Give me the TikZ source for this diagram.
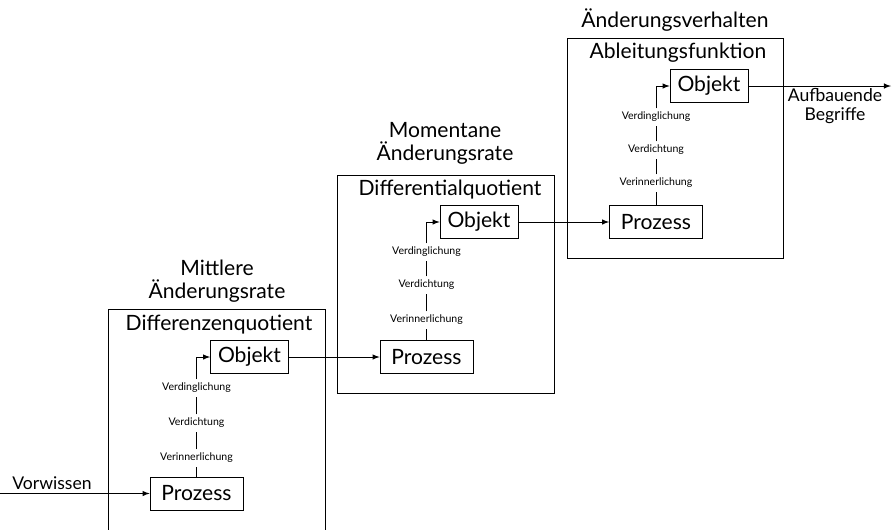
\documentclass[tikz,border=0pt]{standalone}
\usepackage{fontspec}
\setmainfont{Lato}
\usetikzlibrary{arrows}

\begin{document}
\begin{tikzpicture}[x=0.02cm,y=-0.02cm,>=latex,
    stufe/.style={draw,minimum height=0.66cm,inner sep=2pt,font=\fontsize{12}{14}\selectfont},
    schritt/.style={inner sep=2pt,font=\fontsize{6}{7}\selectfont},
    titel/.style={align=center,font=\fontsize{12}{13}\selectfont}]
      \useasboundingbox (0,0) rectangle (892,529);
      % Mittlere Aenderungsrate
      \draw (108,309) rectangle (325,540);
      \node[titel] (t1) at (217,281) {Mittlere\\Änderungsrate};
      \node[titel] (u1) at (219,325) {Differenzenquotient};
      \node[stufe,minimum width=1.56cm] (o1) at (249.5,357) {Objekt};
      \node[stufe,minimum width=1.86cm] (p1) at (196.5,493.5) {Prozess};
      \node[schritt] (vg1) at (196.5,388) {Verdinglichung};
      \node[schritt] (vd1) at (196.5,423) {Verdichtung};
      \node[schritt] (vi1) at (196.5,458) {Verinnerlichung};
      \draw (p1.north) -- (vi1.south);
      \draw (vi1.north) -- (vd1.south);
      \draw (vd1.north) -- (vg1.south);
      \draw[->] (vg1.north) |- (o1.west);
      \node[font=\fontsize{10}{12}\selectfont] (vw) at (52,483) {Vorwissen};
      \coordinate (start) at (0,493.5);
      \draw[->] (start) -- (p1.west);

      % Momentane Aenderungsrate
      \draw (337,175) rectangle (554,393);
      \node[titel] (t2) at (445,143.5) {Momentane\\Änderungsrate};
      \node[titel] (u2) at (450,190) {Differentialquotient};
      \node[stufe,minimum width=1.56cm] (o2) at (479,222) {Objekt};
      \node[stufe,minimum width=1.86cm] (p2) at (426.5,357) {Prozess};
      \node[schritt] (vg2) at (426.5,252) {Verdinglichung};
      \node[schritt] (vd2) at (426.5,285) {Verdichtung};
      \node[schritt] (vi2) at (426.5,320) {Verinnerlichung};
      \draw (p2.north) -- (vi2.south);
      \draw (vi2.north) -- (vd2.south);
      \draw (vd2.north) -- (vg2.south);
      \draw[->] (vg2.north) |- (o2.west);
      \draw[->] (o1.east) -- (p2.west);

      % Aenderungsverhalten
      \draw (567,38) rectangle (783,258);
      \node[titel] (t3) at (675,20) {Änderungsverhalten};
      \node[titel] (u3) at (678,53) {Ableitungsfunktion};
      \node[stufe,minimum width=1.56cm] (o3) at (709,86) {Objekt};
      \node[stufe,minimum width=1.86cm] (p3) at (656,222) {Prozess};
      \node[schritt] (vg3) at (656,117) {Verdinglichung};
      \node[schritt] (vd3) at (656,150) {Verdichtung};
      \node[schritt] (vi3) at (656,183) {Verinnerlichung};
      \draw (p3.north) -- (vi3.south);
      \draw (vi3.north) -- (vd3.south);
      \draw (vd3.north) -- (vg3.south);
      \draw[->] (vg3.north) |- (o3.west);
      \draw[->] (o2.east) -- (p3.west);
      \coordinate (ende) at (891,86);
      \draw[->] (o3.east) -- (ende);
      \node[align=center,font=\fontsize{10}{10.5}\selectfont] (ab) at (835,106) {Aufbauende\\Begriffe};
\end{tikzpicture}
\end{document}
